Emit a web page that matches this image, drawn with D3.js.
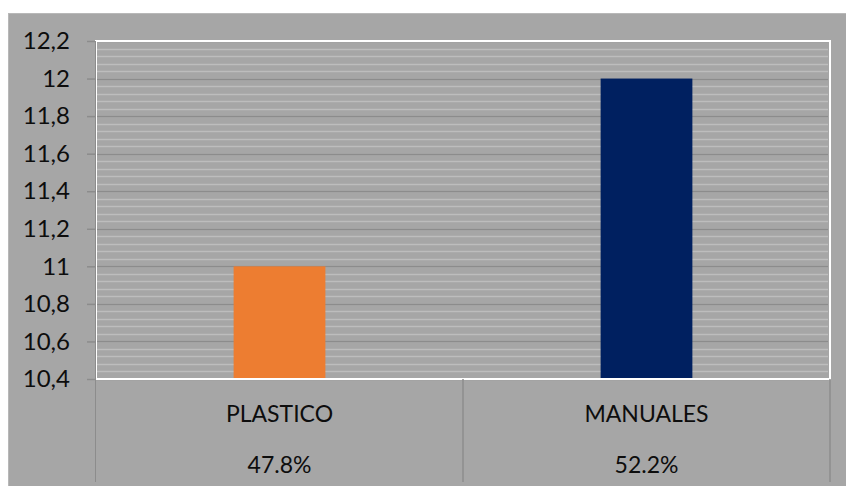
<!DOCTYPE html>
<html>
<head>
<meta charset="utf-8">
<script src="https://cdn.jsdelivr.net/npm/d3@7"></script>
<style>
  body { margin: 0; background: #fff; }
  text { font-family: Lato, "Open Sans", sans-serif; fill: #0d0d0d; }
</style>
</head>
<body>
<script>
const categories = ['PLASTICO', 'MANUALES']
const values = [11, 12]
const shares = ['47.8%', '52.2%']
const colors = ['#ed7d31', '#002060']
const yTicks = [10.4, 10.6, 10.8, 11, 11.2, 11.4, 11.6, 11.8, 12, 12.2]

const W = 846, H = 486
const plot = {left: 96, right: 830, top: 41, bottom: 379}
const tableBottom = 482

const svg = d3.select('body').append('svg')
    .attr('width', W)
    .attr('height', H)

// outer chart area
svg.append('rect')
    .attr('x', 8).attr('y', 13)
    .attr('width', W - 8).attr('height', H - 13)
    .attr('fill', '#a6a6a6')
svg.append('line')
    .attr('x1', 8).attr('x2', W).attr('y1', 13.5).attr('y2', 13.5)
    .attr('stroke', '#b8b8b8')
svg.append('line')
    .attr('x1', 8.5).attr('x2', 8.5).attr('y1', 13).attr('y2', H)
    .attr('stroke', '#b8b8b8')

const y = d3.scaleLinear()
    .domain([10.4, 12.2])
    .range([plot.bottom, plot.top])

const x = d3.scaleBand()
    .domain(categories)
    .range([plot.left, plot.right])

const locale = d3.formatLocale({decimal: ',', thousands: '.', grouping: [3], currency: ['', '']})
const fmt = locale.format('.1~f')

// minor gridlines every 0.04
const minor = d3.range(0, 46).map(i => 10.4 + i * 0.04)
svg.append('g')
    .selectAll('line')
    .data(minor)
    .join('line')
    .attr('x1', plot.left).attr('x2', plot.right - 2)
    .attr('y1', d => Math.round(y(d)) + 0.5)
    .attr('y2', d => Math.round(y(d)) + 0.5)
    .attr('stroke', '#bdbdbd')
    .attr('stroke-width', 1.5)

// major gridlines
svg.append('g')
    .selectAll('line')
    .data(yTicks)
    .join('line')
    .attr('x1', plot.left).attr('x2', plot.right - 2)
    .attr('y1', d => Math.round(y(d)) + 0.5)
    .attr('y2', d => Math.round(y(d)) + 0.5)
    .attr('stroke', '#8c8c8c')
    .attr('stroke-width', 1.5)

// bars
svg.append('g')
    .selectAll('rect')
    .data(values)
    .join('rect')
    .attr('x', (d, i) => x(categories[i]) + x.bandwidth() * 0.375)
    .attr('width', x.bandwidth() * 0.25)
    .attr('y', d => y(d))
    .attr('height', d => y(10.4) - y(d))
    .attr('fill', (d, i) => colors[i])

// plot border (white)
svg.append('path')
    .attr('d', `M${plot.left},${plot.bottom}V${plot.top}H${plot.right}V${plot.bottom}H${plot.left}`)
    .attr('fill', 'none')
    .attr('stroke', '#fff')
    .attr('stroke-width', 2)

// y axis
const yAxis = svg.append('g')
    .attr('transform', `translate(${plot.left - 1},0)`)
    .call(d3.axisLeft(y).tickValues(yTicks).tickFormat(fmt).tickSize(8).tickPadding(17))
yAxis.select('.domain').attr('stroke', '#8c8c8c').attr('d', `M0.5,${plot.top}V${tableBottom}`)
yAxis.selectAll('.tick line').attr('stroke', '#8c8c8c').attr('stroke-width', 1.5)
yAxis.selectAll('.tick text')
    .style('font-size', '24px')
    .style('font-family', 'Lato, "Open Sans", sans-serif')
    .attr('fill', '#0d0d0d')

// data table under the chart
svg.append('g')
    .selectAll('line')
    .data(categories)
    .join('line')
    .attr('x1', d => x(d) + x.bandwidth())
    .attr('x2', d => x(d) + x.bandwidth())
    .attr('y1', plot.bottom).attr('y2', tableBottom)
    .attr('stroke', '#8c8c8c')
    .attr('stroke-width', 1.5)

svg.append('g')
    .selectAll('text')
    .data(categories)
    .join('text')
    .attr('x', d => x(d) + x.bandwidth() / 2)
    .attr('y', 422)
    .attr('text-anchor', 'middle')
    .style('font-size', '23px')
    .text(d => d)

svg.append('g')
    .selectAll('text')
    .data(shares)
    .join('text')
    .attr('x', (d, i) => x(categories[i]) + x.bandwidth() / 2)
    .attr('y', 473)
    .attr('text-anchor', 'middle')
    .style('font-size', '23px')
    .text(d => d)
</script>
</body>
</html>
